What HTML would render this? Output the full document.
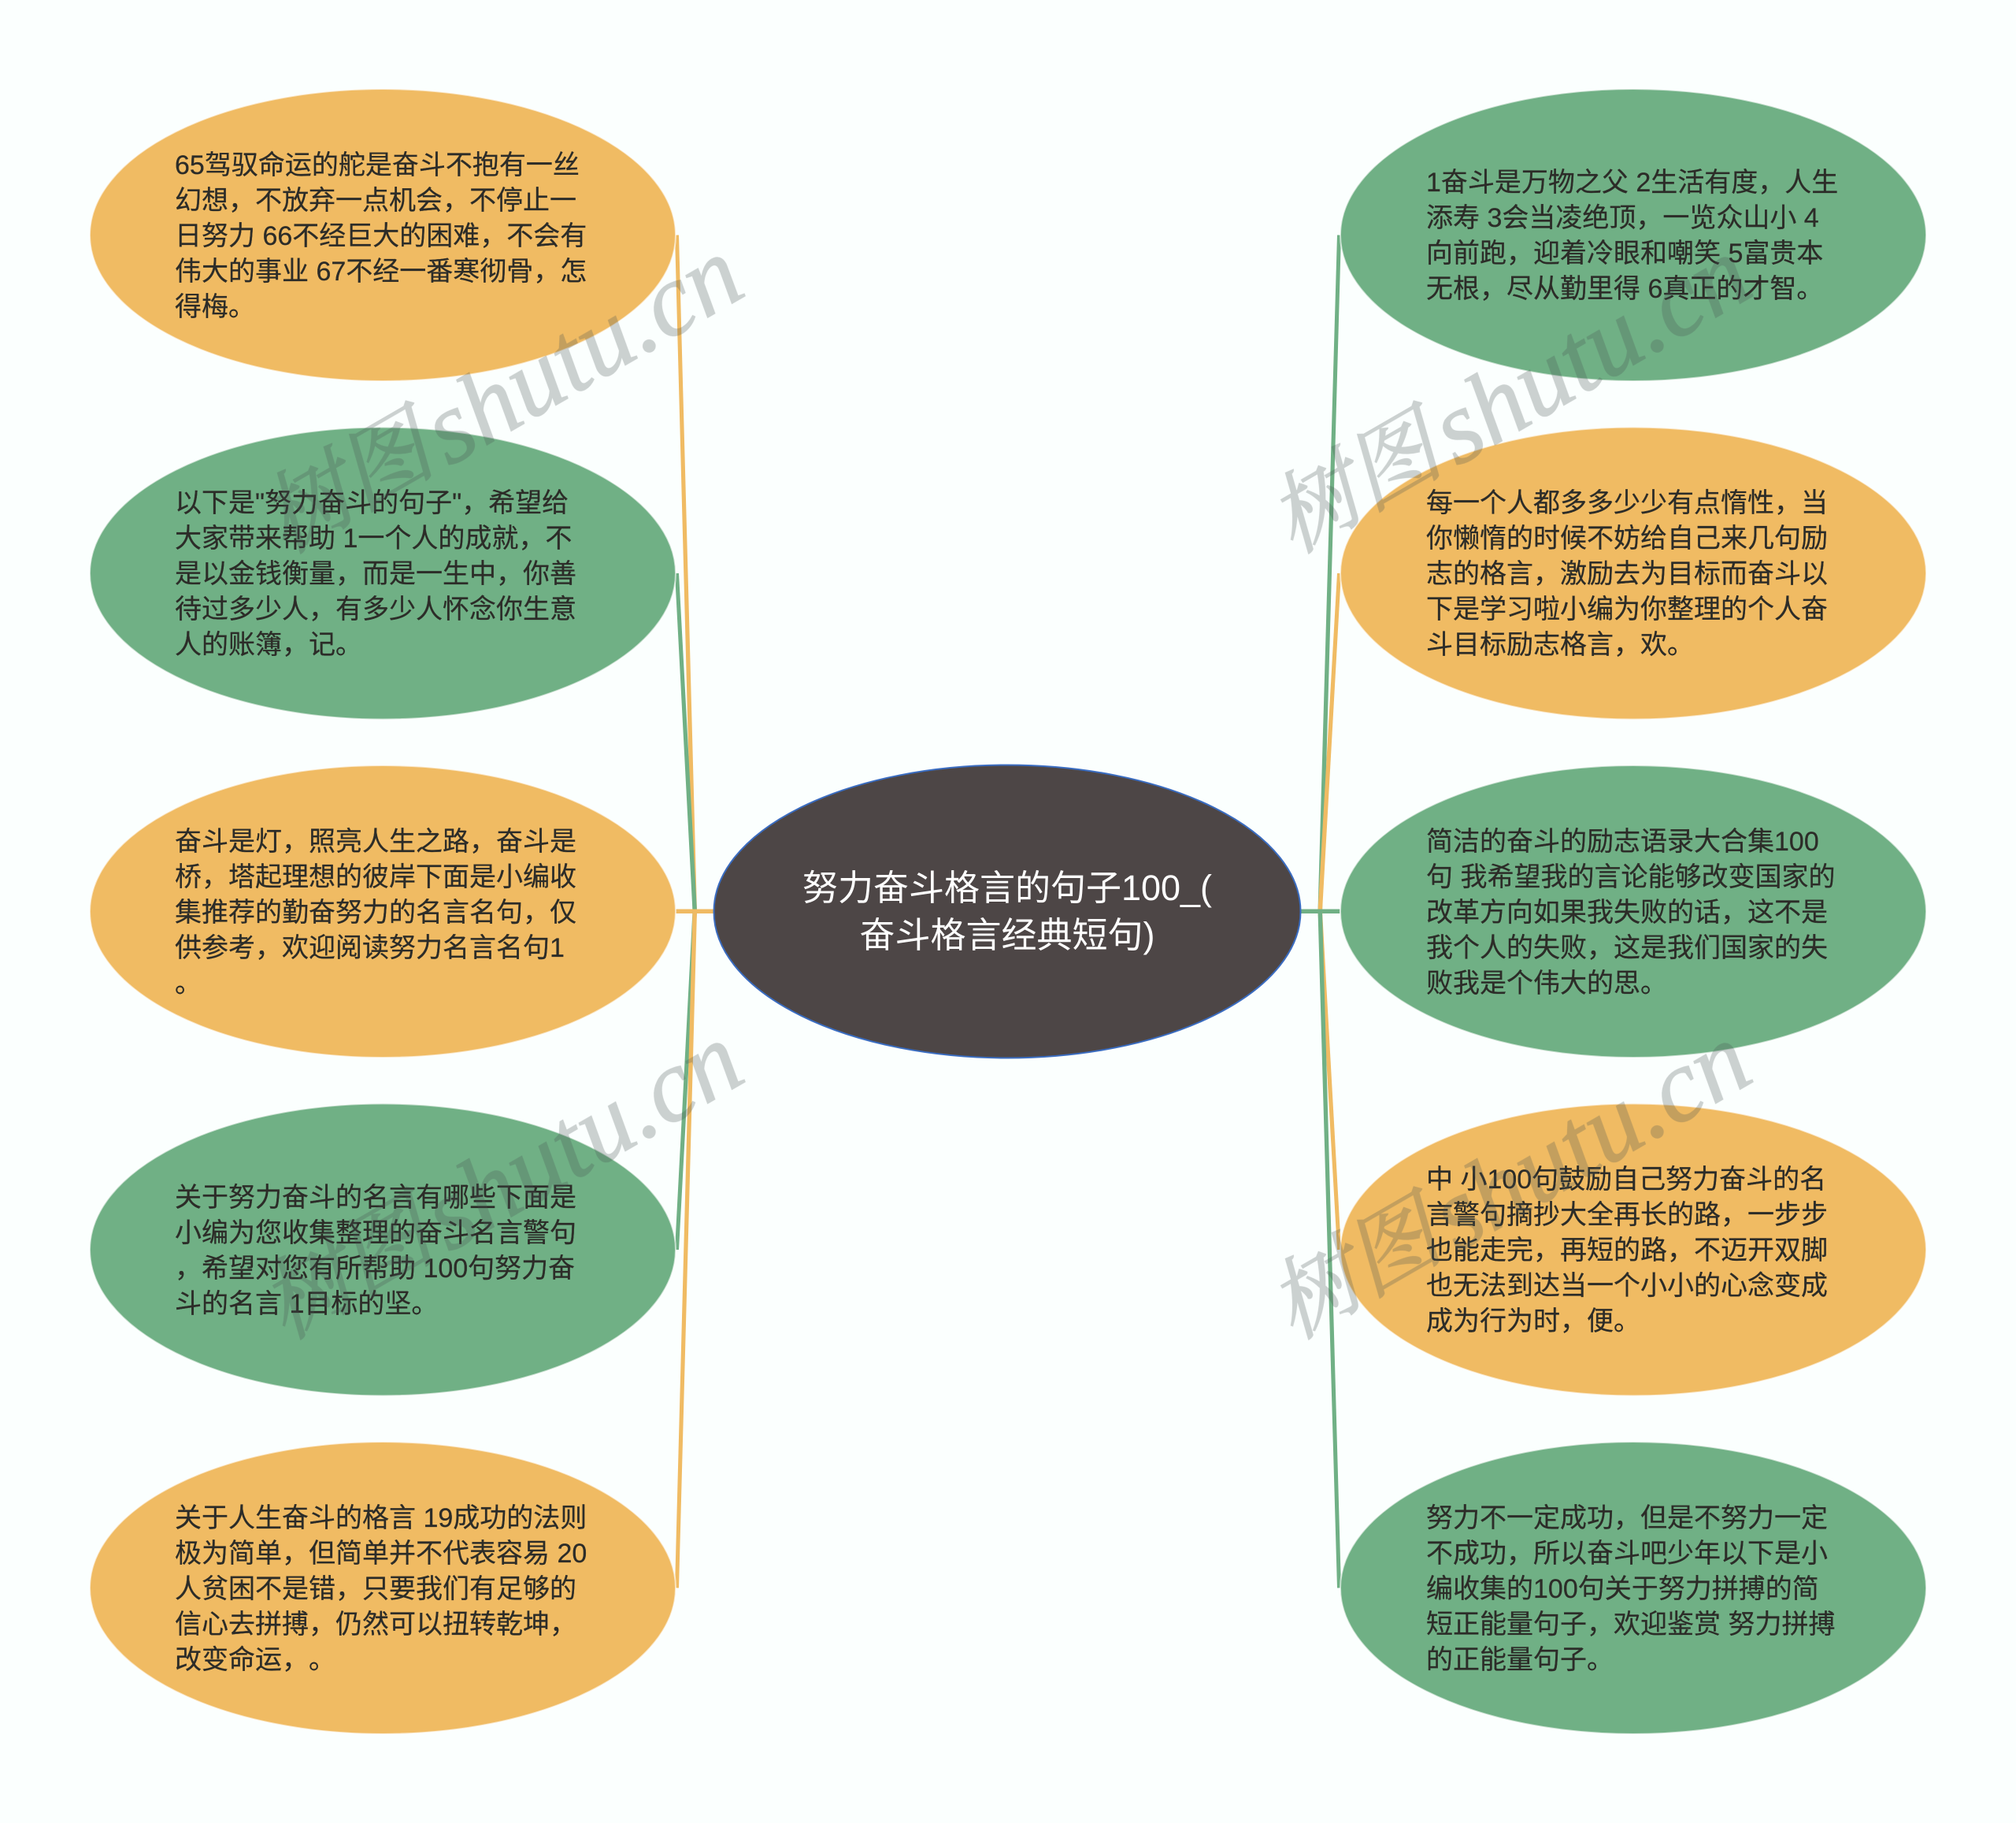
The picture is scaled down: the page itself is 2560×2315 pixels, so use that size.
<!DOCTYPE html>
<html lang="zh-CN">
<head>
<meta charset="utf-8">
<title>努力奋斗格言的句子100</title>
<style>
html,body{margin:0;padding:0;background:#fbfffe;}
#p{position:relative;width:2560px;height:2315px;overflow:hidden;background:#fbfffe;font-family:"Liberation Sans","Noto Sans CJK SC",sans-serif;text-spacing-trim:space-all;font-feature-settings:"chws" 0;}
svg{position:absolute;left:0;top:0;}
.t{position:absolute;height:370px;display:flex;align-items:center;font-size:34px;line-height:45px;color:#2c2c28;-webkit-text-stroke:.25px #2c2c28;white-space:nowrap;}
.l{left:222px}.r{left:1811px}
.c{position:absolute;left:906px;width:746px;top:1097.5px;text-align:center;font-size:45px;line-height:60px;color:#fff;white-space:nowrap;}
</style>
</head>
<body>
<div id="p">
<svg width="2560" height="2315" viewBox="0 0 2560 2315">
  <!-- connectors left -->
  <polygon points="879.5,1157 885,1157 862,298.5 857,298.5" fill="#f0bb63"/>
  <polygon points="879.5,1157 885,1157 862,728 857,728" fill="#70b085"/>
  <rect x="858" y="1154.5" width="48" height="5.5" fill="#f0bb63"/>
  <polygon points="879.5,1157 885,1157 862,1587 857,1587" fill="#70b085"/>
  <polygon points="879.5,1157 885,1157 862,2016.5 857,2016.5" fill="#f0bb63"/>
  <!-- connectors right -->
  <polygon points="1673.5,1157 1679,1157 1703,298.5 1698,298.5" fill="#70b085"/>
  <polygon points="1673.5,1157 1679,1157 1703,728 1698,728" fill="#f0bb63"/>
  <rect x="1652" y="1154.5" width="49.5" height="5.5" fill="#70b085"/>
  <polygon points="1673.5,1157 1679,1157 1703,1587 1698,1587" fill="#f0bb63"/>
  <polygon points="1673.5,1157 1679,1157 1703,2016.5 1698,2016.5" fill="#70b085"/>
  <!-- ellipses -->
  <g stroke="#ffffff" stroke-opacity=".6" stroke-width="2">
    <ellipse cx="486" cy="298.5" rx="372" ry="185.5" fill="#f0bb63"/>
    <ellipse cx="486" cy="728" rx="372" ry="185.5" fill="#70b085"/>
    <ellipse cx="486" cy="1157.5" rx="372" ry="185.5" fill="#f0bb63"/>
    <ellipse cx="486" cy="1587" rx="372" ry="185.5" fill="#70b085"/>
    <ellipse cx="486" cy="2016.5" rx="372" ry="185.5" fill="#f0bb63"/>
    <ellipse cx="2074" cy="298.5" rx="372" ry="185.5" fill="#70b085"/>
    <ellipse cx="2074" cy="728" rx="372" ry="185.5" fill="#f0bb63"/>
    <ellipse cx="2074" cy="1157.5" rx="372" ry="185.5" fill="#70b085"/>
    <ellipse cx="2074" cy="1587" rx="372" ry="185.5" fill="#f0bb63"/>
    <ellipse cx="2074" cy="2016.5" rx="372" ry="185.5" fill="#70b085"/>
  </g>
  <ellipse cx="1279" cy="1157.5" rx="372.5" ry="186" fill="#4d4646" stroke="#3a6cc0" stroke-width="2"/>
</svg>

<div class="c">努力奋斗格言的句子100_(<br>奋斗格言经典短句)</div>

<div class="t l" style="top:115px"><div>65驾驭命运的舵是奋斗不抱有一丝<br>幻想，不放弃一点机会，不停止一<br>日努力 66不经巨大的困难，不会有<br>伟大的事业 67不经一番寒彻骨，怎<br>得梅。</div></div>
<div class="t l" style="top:544.5px"><div>以下是"努力奋斗的句子"，希望给<br>大家带来帮助 1一个人的成就，不<br>是以金钱衡量，而是一生中，你善<br>待过多少人，有多少人怀念你生意<br>人的账簿，记。</div></div>
<div class="t l" style="top:974px"><div>奋斗是灯，照亮人生之路，奋斗是<br>桥，塔起理想的彼岸下面是小编收<br>集推荐的勤奋努力的名言名句，仅<br>供参考，欢迎阅读努力名言名句1<br>。</div></div>
<div class="t l" style="top:1403.5px"><div>关于努力奋斗的名言有哪些下面是<br>小编为您收集整理的奋斗名言警句<br>，希望对您有所帮助 100句努力奋<br>斗的名言 1目标的坚。</div></div>
<div class="t l" style="top:1833px"><div>关于人生奋斗的格言 19成功的法则<br>极为简单，但简单并不代表容易 20<br>人贫困不是错，只要我们有足够的<br>信心去拼搏，仍然可以扭转乾坤，<br>改变命运，。</div></div>

<div class="t r" style="top:115px"><div>1奋斗是万物之父 2生活有度，人生<br>添寿 3会当凌绝顶，一览众山小 4<br>向前跑，迎着冷眼和嘲笑 5富贵本<br>无根，尽从勤里得 6真正的才智。</div></div>
<div class="t r" style="top:544.5px"><div>每一个人都多多少少有点惰性，当<br>你懒惰的时候不妨给自己来几句励<br>志的格言，激励去为目标而奋斗以<br>下是学习啦小编为你整理的个人奋<br>斗目标励志格言，欢。</div></div>
<div class="t r" style="top:974px"><div>简洁的奋斗的励志语录大合集100<br>句 我希望我的言论能够改变国家的<br>改革方向如果我失败的话，这不是<br>我个人的失败，这是我们国家的失<br>败我是个伟大的思。</div></div>
<div class="t r" style="top:1403.5px"><div>中 小100句鼓励自己努力奋斗的名<br>言警句摘抄大全再长的路，一步步<br>也能走完，再短的路，不迈开双脚<br>也无法到达当一个小小的心念变成<br>成为行为时，便。</div></div>
<div class="t r" style="top:1833px"><div>努力不一定成功，但是不努力一定<br>不成功，所以奋斗吧少年以下是小<br>编收集的100句关于努力拼搏的简<br>短正能量句子，欢迎鉴赏 努力拼搏<br>的正能量句子。</div></div>

<svg width="2560" height="2315" viewBox="0 0 2560 2315" style="pointer-events:none">
  <g opacity=".27" fill="#4a5555" stroke="#4a5555" font-style="italic">
    <g font-family="'Noto Serif CJK SC',serif" font-size="112" stroke-width="1.5">
      <text x="362" y="704" transform="rotate(-30 362 704)">树图</text>
      <text x="1642" y="704" transform="rotate(-30 1642 704)">树图</text>
      <text x="362" y="1702" transform="rotate(-30 362 1702)">树图</text>
      <text x="1642" y="1702" transform="rotate(-30 1642 1702)">树图</text>
    </g>
    <g font-family="'Liberation Serif',serif" font-size="131" stroke-width="1.2">
      <text x="570" y="593" transform="rotate(-30 570 593)">shutu.cn</text>
      <text x="1850" y="593" transform="rotate(-30 1850 593)">shutu.cn</text>
      <text x="570" y="1591" transform="rotate(-30 570 1591)">shutu.cn</text>
      <text x="1850" y="1591" transform="rotate(-30 1850 1591)">shutu.cn</text>
    </g>
  </g>
</svg>
</div>
</body>
</html>
